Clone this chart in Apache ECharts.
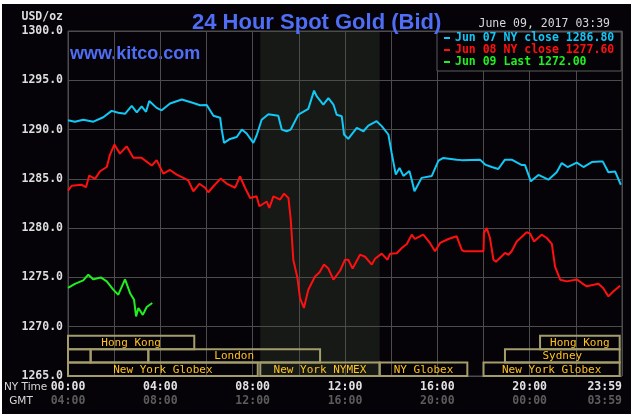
<!DOCTYPE html>
<html><head><meta charset="utf-8">
<script src="https://cdn.jsdelivr.net/npm/echarts@6/dist/echarts.min.js"></script>
<style>html,body{margin:0;padding:0;background:#fff;width:634px;height:414px;overflow:hidden}#c{position:absolute;left:2px;top:4px;width:629px;height:410px;}</style>
</head><body><div id="c"></div>
<script>
// ---- data ----
const seriesNames = ['Jun 07 NY close 1286.80', 'Jun 08 NY close 1277.60', 'Jun 09 Last 1272.00'];
const seriesColors = ['#12c8f5', '#ff1010', '#1ff01f'];
// [NY time in hours, price]
const jun07 = [[0.00,1290.95],[0.30,1290.8],[0.66,1291.0],[1.10,1290.8],[1.53,1291.25],[1.89,1291.9],[2.18,1291.7],[2.47,1291.6],[2.76,1292.4],[2.98,1291.75],[3.19,1292.35],[3.38,1291.8],[3.52,1292.9],[3.84,1292.2],[4.06,1291.95],[4.42,1292.65],[4.93,1293.05],[5.43,1292.7],[5.72,1292.47],[6.01,1292.5],[6.30,1291.4],[6.59,1291.2],[6.66,1290.0],[6.76,1288.65],[7.02,1289.05],[7.31,1289.25],[7.53,1290.0],[7.74,1289.6],[8.03,1288.65],[8.17,1289.4],[8.39,1291.0],[8.68,1291.55],[9.11,1291.4],[9.26,1290.0],[9.47,1289.83],[9.65,1290.0],[9.98,1291.52],[10.41,1292.1],[10.66,1293.95],[10.77,1293.4],[11.06,1292.54],[11.28,1293.2],[11.50,1292.54],[11.64,1291.5],[11.86,1291.35],[11.96,1289.5],[12.14,1289.05],[12.51,1290.17],[12.80,1289.83],[13.01,1290.4],[13.37,1290.85],[13.59,1290.35],[13.88,1289.5],[14.02,1287.63],[14.20,1285.43],[14.36,1286.1],[14.53,1285.3],[14.79,1285.8],[14.89,1284.92],[15.01,1283.74],[15.32,1285.1],[15.76,1285.3],[16.05,1286.85],[16.26,1287.12],[16.84,1286.95],[17.06,1286.9],[17.85,1286.95],[18.07,1286.45],[18.36,1286.2],[18.64,1286.0],[18.93,1286.95],[19.22,1286.95],[19.66,1286.4],[19.80,1286.4],[20.05,1284.75],[20.38,1285.4],[20.81,1284.92],[21.17,1285.67],[21.39,1286.6],[21.64,1286.2],[22.04,1286.65],[22.33,1286.2],[22.69,1286.7],[23.05,1286.75],[23.17,1286.75],[23.41,1285.67],[23.70,1285.75],[23.95,1284.4]];
const jun08 = [[0.00,1283.8],[0.16,1284.3],[0.59,1284.4],[0.78,1284.15],[0.92,1285.33],[1.17,1285.0],[1.39,1285.77],[1.68,1286.2],[1.82,1287.46],[2.01,1288.48],[2.25,1287.56],[2.54,1288.3],[2.83,1287.13],[3.19,1287.13],[3.63,1286.35],[3.84,1286.9],[4.13,1285.53],[4.42,1285.9],[4.71,1285.43],[5.00,1285.1],[5.21,1284.85],[5.43,1283.74],[5.69,1284.5],[5.94,1284.1],[6.08,1283.64],[6.30,1284.25],[6.61,1285.03],[6.87,1284.52],[7.24,1284.1],[7.45,1285.26],[7.67,1284.1],[7.89,1283.06],[8.17,1283.23],[8.29,1282.22],[8.61,1282.7],[8.72,1282.05],[8.90,1283.23],[9.19,1282.9],[9.36,1283.5],[9.55,1283.06],[9.65,1280.86],[9.76,1276.8],[9.94,1274.94],[10.05,1272.9],[10.22,1271.9],[10.41,1273.75],[10.70,1275.1],[10.89,1275.5],[11.09,1276.3],[11.28,1275.9],[11.50,1274.77],[11.79,1275.7],[12.00,1276.8],[12.14,1276.8],[12.33,1275.9],[12.65,1277.31],[12.87,1277.1],[13.16,1276.3],[13.30,1276.9],[13.59,1277.41],[13.84,1276.8],[13.95,1277.4],[14.24,1277.45],[14.46,1277.99],[14.68,1278.4],[14.89,1279.34],[15.03,1278.9],[15.39,1279.34],[15.68,1278.5],[15.90,1277.65],[16.12,1278.5],[16.48,1278.9],[16.84,1279.17],[17.06,1277.8],[17.15,1277.65],[18.00,1277.65],[18.02,1279.5],[18.14,1280.02],[18.28,1279.0],[18.43,1276.8],[18.54,1276.6],[18.93,1277.48],[19.08,1277.3],[19.22,1277.65],[19.44,1278.65],[19.87,1279.58],[20.02,1279.45],[20.19,1278.65],[20.52,1279.34],[20.74,1279.0],[20.96,1278.4],[21.10,1276.1],[21.32,1274.77],[21.61,1274.6],[22.04,1274.8],[22.26,1274.43],[22.47,1274.1],[22.98,1274.35],[23.19,1273.9],[23.41,1273.08],[23.63,1273.6],[23.92,1274.16]];
const jun09 = [[0.00,1273.93],[0.30,1274.35],[0.66,1274.7],[0.88,1275.28],[1.10,1274.8],[1.42,1275.0],[1.68,1274.6],[1.96,1273.76],[2.18,1273.25],[2.47,1274.8],[2.69,1273.4],[2.86,1272.74],[2.95,1271.05],[3.05,1271.9],[3.24,1271.2],[3.41,1272.0],[3.65,1272.4]];

const labelHours = [0, 4, 8, 12, 16, 20, 24];
const nyTimeLabels = ['00:00', '04:00', '08:00', '12:00', '16:00', '20:00', '23:59'];
const gmtTimeLabels = ['04:00', '08:00', '12:00', '16:00', '20:00', '00:00', '03:59'];

// market sessions (NY hours); row 0 = bottom
const sessionNames = ['Hong Kong', '', '', 'London', 'Sydney', 'Hong Kong', 'New York Globex', 'New York NYMEX', 'NY Globex', 'New York Globex'];
const sessionStart = [0, 0, 0.98, 3.48, 18.93, 20.45, 0, 8.33, 13.5, 18.0];
const sessionEnd   = [5.47, 0.98, 3.48, 10.92, 23.9, 23.9, 8.22, 13.5, 17.3, 23.9];
const sessionRow   = [2, 1, 1, 1, 1, 2, 0, 0, 0, 0];
const nymexHours = [8.33, 13.5];

// ---- chart ----
const mono = '"DejaVu Sans Mono", monospace';
const chart = echarts.init(document.getElementById('c'));
const sessionData = sessionStart.map((s, i) => [s, sessionEnd[i], sessionRow[i]]);

chart.setOption({
  animation: false,
  backgroundColor: '#050308',
  title: {
    text: '24 Hour Spot Gold (Bid)', left: 185, top: 3,
    textStyle: { color: '#4f6ef5', fontSize: 22, fontWeight: 'bold', fontFamily: '"Liberation Sans", Arial, sans-serif' }
  },
  legend: {
    left: 435, top: 28, orient: 'vertical', icon: 'rect', itemWidth: 6, itemHeight: 2, itemGap: 0,
    padding: [0, 7, 3, 7], backgroundColor: '#050308', borderColor: '#5a5a5a', borderWidth: 1,
    selectedMode: false,
    textStyle: { fontFamily: mono, fontWeight: 'bold', fontSize: 11.5, lineHeight: 12 },
    data: seriesNames.map((n, i) => ({ name: n, textStyle: { color: seriesColors[i] } }))
  },
  grid: { left: 66, right: 9, top: 27, bottom: 38, show: true, borderColor: '#4c4c4c', borderWidth: 1 },
  xAxis: {
    type: 'value', min: 0, max: 24, interval: 2,
    axisLine: { show: false }, axisTick: { show: false },
    splitLine: { show: true, lineStyle: { color: '#4c4c4c', width: 1 } },
    axisLabel: {
      margin: 4, showMaxLabel: true, alignMaxLabel: 'right',
      formatter: v => {
        const i = labelHours.indexOf(v);
        return i < 0 ? '' : '{a|' + nyTimeLabels[i] + '}\n{b|' + gmtTimeLabels[i] + '}';
      },
      rich: {
        a: { color: '#e2e2e2', fontFamily: mono, fontWeight: 'bold', fontSize: 11.5, lineHeight: 14 },
        b: { color: '#5c5c5c', fontFamily: mono, fontWeight: 'bold', fontSize: 11.5, lineHeight: 14 }
      }
    }
  },
  yAxis: {
    type: 'value', min: 1265, max: 1300, interval: 5,
    axisLine: { show: false }, axisTick: { show: false },
    splitLine: { show: true, lineStyle: { color: '#4c4c4c', width: 1 } },
    axisLabel: { formatter: v => v.toFixed(1), color: '#dedede', fontFamily: mono, fontWeight: 'bold', fontSize: 11.5, margin: 5 },
    name: 'USD/oz', nameLocation: 'end', nameGap: 14,
    nameTextStyle: { align: 'right', verticalAlign: 'middle', padding: [0, 5, 0, 0], color: '#dedede', fontFamily: mono, fontWeight: 'bold', fontSize: 11.5 }
  },
  graphic: [
    { type: 'text', left: 68, top: 41, style: { text: 'www.kitco.com', fill: '#4f6ef5', font: 'bold 18px "Liberation Sans", Arial, sans-serif' } },
    { type: 'text', x: 608, y: 20, style: { text: 'June 09, 2017 03:39', fill: '#d8d8d8', font: '11.5px ' + mono, align: 'right', verticalAlign: 'middle' } },
    { type: 'text', x: 2, y: 383, style: { text: 'NY Time', fill: '#d8d8d8', font: '10.5px "DejaVu Sans", sans-serif', align: 'left', verticalAlign: 'middle' } },
    { type: 'text', x: 19, y: 397, style: { text: 'GMT', fill: '#d8d8d8', font: '10.5px "DejaVu Sans", sans-serif', align: 'center', verticalAlign: 'middle' } }
  ],
  series: [
    {
      name: seriesNames[0], type: 'line', data: jun07, showSymbol: false, color: seriesColors[0],
      lineStyle: { width: 2, color: seriesColors[0] }, z: 3,
      markArea: { silent: true, itemStyle: { color: 'rgba(65,75,60,0.3)' }, data: [[{ xAxis: nymexHours[0] }, { xAxis: nymexHours[1] }]] }
    },
    { name: seriesNames[1], type: 'line', data: jun08, showSymbol: false, color: seriesColors[1], lineStyle: { width: 2, color: seriesColors[1] }, z: 3 },
    { name: seriesNames[2], type: 'line', data: jun09, showSymbol: false, color: seriesColors[2], lineStyle: { width: 2, color: seriesColors[2] }, z: 3 },
    {
      type: 'custom', data: sessionData, encode: { x: [0, 1], y: 2 }, z: 2, clip: false, silent: true,
      renderItem: (params, api) => {
        const s = api.value(0), e = api.value(1), row = api.value(2);
        const p0 = api.coord([s, 1265]), p1 = api.coord([e, 1265]);
        const rowH = 13.4;
        const yb = p0[1] - row * rowH, yt = yb - rowH;
        return {
          type: 'group', children: [
            { type: 'rect', shape: { x: p0[0], y: yt, width: p1[0] - p0[0], height: rowH }, style: { fill: null, stroke: '#a39d6c', lineWidth: 2 } },
            { type: 'text', style: { text: sessionNames[params.dataIndex], x: (p0[0] + p1[0]) / 2, y: (yt + yb) / 2 + 0.5, align: 'center', verticalAlign: 'middle', fill: '#ffc21f', font: '11px ' + mono } }
          ]
        };
      }
    }
  ]
});
</script>
</body></html>
